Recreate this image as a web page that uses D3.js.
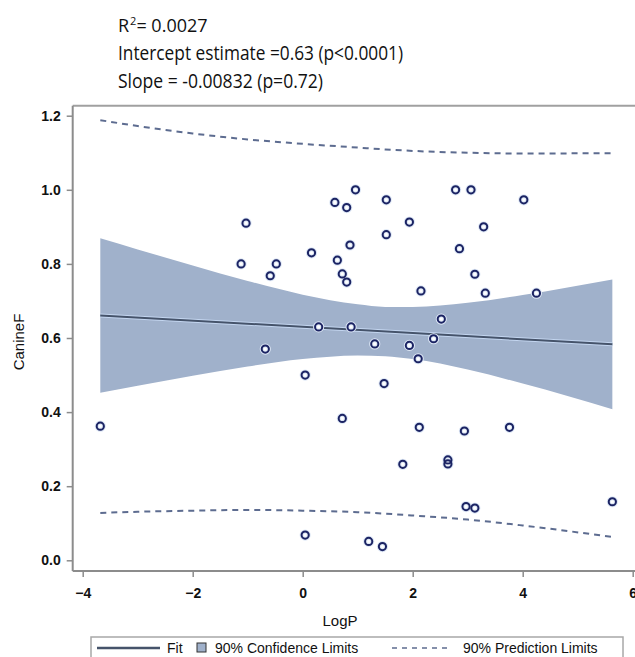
<!DOCTYPE html>
<html>
<head>
<meta charset="utf-8">
<script src="https://cdn.jsdelivr.net/npm/d3@7"></script>
<style>
  body { margin: 0; background: #fff; }
  svg { display: block; }
</style>
</head>
<body>
<div id="chart"></div>
<script>
// 数据：值
const logP = [-3.68, -1.12, -1.03, -0.68, -0.59, -0.48, 0.045, 0.045, 0.16, 0.29,
  0.585, 0.63, 0.72, 0.72, 0.80, 0.80, 0.86, 0.88, 0.96, 1.20,
  1.31, 1.45, 1.48, 1.52, 1.52, 1.82, 1.94, 1.94, 2.10, 2.12,
  2.15, 2.38, 2.52, 2.64, 2.64, 2.78, 2.85, 2.94, 2.97, 3.06,
  3.13, 3.13, 3.29, 3.32, 3.76, 4.02, 4.25, 5.63];
const canineF = [0.362, 0.80, 0.91, 0.57, 0.768, 0.80, 0.50, 0.068, 0.83, 0.63,
  0.966, 0.81, 0.773, 0.383, 0.952, 0.751, 0.851, 0.63, 1.00, 0.051,
  0.584, 0.037, 0.477, 0.973, 0.879, 0.259, 0.913, 0.58, 0.544, 0.359,
  0.727, 0.598, 0.651, 0.271, 0.26, 1.00, 0.841, 0.349, 0.145, 1.00,
  0.772, 0.141, 0.90, 0.721, 0.359, 0.973, 0.721, 0.158];

const fitX = [-3.68, 5.63];
const fitY = [0.661, 0.583];

const bandX   = [-3.68, -3, -2, -1, 0, 1, 1.5, 2, 3, 4, 5.63];
const clLower = [0.452, 0.471, 0.498, 0.523, 0.543, 0.553, 0.551, 0.543, 0.515, 0.477, 0.408];
const clUpper = [0.869, 0.839, 0.796, 0.754, 0.717, 0.691, 0.684, 0.684, 0.695, 0.716, 0.758];
const plLower = [0.128, 0.131, 0.134, 0.136, 0.134, 0.130, 0.126, 0.121, 0.110, 0.094, 0.063];
const plUpper = [1.188, 1.172, 1.152, 1.136, 1.124, 1.114, 1.109, 1.105, 1.100, 1.098, 1.099];

const xTicks = [-4, -2, 0, 2, 4, 6];
const yTicks = [0.0, 0.2, 0.4, 0.6, 0.8, 1.0, 1.2];

const statLines = ['Intercept estimate =0.63 (p<0.0001)', 'Slope = -0.00832 (p=0.72)'];
const legendItems = ['Fit', '90% Confidence Limits', '90% Prediction Limits'];

const width = 635;
const height = 657;

const svg = d3.select('#chart')
  .append('svg')
  .attr('width', width)
  .attr('height', height);

const x = d3.scaleLinear().domain([-4, 6]).range([82.7, 632.7]);
const y = d3.scaleLinear().domain([0, 1.2]).range([560.3, 115.7]);

const frameLeft = 72.7, frameTop = 105.7, frameBottom = 571;

// 标题统计信息
const head = svg.append('g')
  .style('font-family', '"Open Sans", "Noto Sans", sans-serif')
  .style('font-size', '20px')
  .attr('fill', '#111');

const r2 = head.append('text')
  .attr('x', 118).attr('y', 32)
  .style('font-size', '18px');
r2.append('tspan').text('R');
r2.append('tspan').attr('dx', 1).attr('dy', -7).style('font-size', '11px').text('2');
r2.append('tspan').attr('dy', 7).text('= 0.0027');

head.selectAll('.stat')
  .data(statLines)
  .enter()
  .append('text')
  .attr('class', 'stat')
  .attr('x', 118)
  .attr('y', (d, i) => 60 + i * 28)
  .attr('textLength', (d, i) => i === 0 ? 285 : 205)
  .attr('lengthAdjust', 'spacingAndGlyphs')
  .text(d => d);

// 置信带
const band = d3.range(bandX.length);
svg.append('path')
  .datum(band)
  .attr('d', d3.area()
    .x(i => x(bandX[i]))
    .y0(i => y(clLower[i]))
    .y1(i => y(clUpper[i]))
    .curve(d3.curveMonotoneX))
  .attr('fill', '#a0b1cb');

// 拟合线
const fitLine = d3.line().x(i => x(fitX[i])).y(i => y(fitY[i]));
svg.append('path')
  .datum(d3.range(fitX.length))
  .attr('d', fitLine)
  .attr('fill', 'none')
  .attr('stroke', '#c4d6f0')
  .attr('stroke-width', 4);
svg.append('path')
  .datum(d3.range(fitX.length))
  .attr('d', fitLine)
  .attr('fill', 'none')
  .attr('stroke', '#45536a')
  .attr('stroke-width', 2);

// 预测限（虚线）
[plLower, plUpper].forEach(arr => {
  svg.append('path')
    .datum(band)
    .attr('d', d3.line()
      .x(i => x(bandX[i]))
      .y(i => y(arr[i]))
      .curve(d3.curveMonotoneX))
    .attr('fill', 'none')
    .attr('stroke', '#5d6c90')
    .attr('stroke-width', 2)
    .attr('stroke-dasharray', '6,5');
});

// 散点
const pts = svg.append('g');
pts.selectAll('.halo')
  .data(d3.range(logP.length))
  .enter()
  .append('circle')
  .attr('class', 'halo')
  .attr('cx', i => x(logP[i]))
  .attr('cy', i => y(canineF[i]))
  .attr('r', 3.6)
  .attr('fill', '#fff')
  .attr('stroke', '#dde7f5')
  .attr('stroke-width', 4);
pts.selectAll('.pt')
  .data(d3.range(logP.length))
  .enter()
  .append('circle')
  .attr('class', 'pt')
  .attr('cx', i => x(logP[i]))
  .attr('cy', i => y(canineF[i]))
  .attr('r', 3.6)
  .attr('fill', 'none')
  .attr('stroke', '#1b2363')
  .attr('stroke-width', 2);

// 边框与坐标轴
const axisColor = '#8c8c8c';
svg.append('line')
  .attr('x1', frameLeft).attr('x2', width)
  .attr('y1', frameTop).attr('y2', frameTop)
  .attr('stroke', '#a0a0a0').attr('stroke-width', 2);

const yAxis = svg.append('g')
  .attr('transform', `translate(${frameLeft},0)`)
  .call(d3.axisLeft(y).tickValues(yTicks).tickFormat(d3.format('.1f')).tickSize(6).tickPadding(6));
yAxis.select('.domain').remove();
svg.append('line')
  .attr('x1', frameLeft).attr('x2', frameLeft)
  .attr('y1', frameTop).attr('y2', frameBottom)
  .attr('stroke', axisColor).attr('stroke-width', 2);

const xAxis = svg.append('g')
  .attr('transform', `translate(0,${frameBottom})`)
  .call(d3.axisBottom(x).tickValues(xTicks).tickFormat(d3.format('d')).tickSize(6).tickPadding(11));
xAxis.select('.domain').remove();
svg.append('line')
  .attr('x1', frameLeft).attr('x2', width)
  .attr('y1', frameBottom).attr('y2', frameBottom)
  .attr('stroke', axisColor).attr('stroke-width', 2);

[yAxis, xAxis].forEach(ax => {
  ax.selectAll('.tick line').attr('stroke', axisColor).attr('stroke-width', 1.5);
  ax.selectAll('.tick text')
    .attr('fill', '#111')
    .style('font-family', '"Liberation Sans", Arial, sans-serif')
    .style('font-size', '14px')
    .style('font-weight', 'bold');
});

// 轴标题
svg.append('text')
  .attr('x', 340).attr('y', 626)
  .attr('text-anchor', 'middle')
  .style('font-family', '"Liberation Sans", Arial, sans-serif')
  .style('font-size', '15px')
  .attr('fill', '#111')
  .text('LogP');

svg.append('text')
  .attr('transform', 'translate(24,342) rotate(-90)')
  .attr('text-anchor', 'middle')
  .style('font-family', '"Liberation Sans", Arial, sans-serif')
  .style('font-size', '15px')
  .attr('fill', '#111')
  .text('CanineF');

// 图例
const lg = svg.append('g')
  .style('font-family', '"Liberation Sans", Arial, sans-serif')
  .style('font-size', '14px')
  .attr('fill', '#111');
lg.append('rect')
  .attr('x', 91).attr('y', 637)
  .attr('width', 532).attr('height', 30)
  .attr('fill', '#fff')
  .attr('stroke', '#a8a8a8')
  .attr('stroke-width', 1.5);
lg.append('line')
  .attr('x1', 97).attr('x2', 160).attr('y1', 648).attr('y2', 648)
  .attr('stroke', '#45536a').attr('stroke-width', 2.5);
lg.append('rect')
  .attr('x', 197).attr('y', 643).attr('width', 9).attr('height', 9)
  .attr('fill', '#a0b1cb').attr('stroke', '#333').attr('stroke-width', 1);
lg.append('line')
  .attr('x1', 392).attr('x2', 450).attr('y1', 648).attr('y2', 648)
  .attr('stroke', '#5d6c90').attr('stroke-width', 1.5)
  .attr('stroke-dasharray', '5,5');
const lgX = [167, 215, 463];
lg.selectAll('.lt')
  .data(legendItems)
  .enter()
  .append('text')
  .attr('class', 'lt')
  .attr('x', (d, i) => lgX[i])
  .attr('y', 653)
  .text(d => d);
</script>
</body>
</html>
